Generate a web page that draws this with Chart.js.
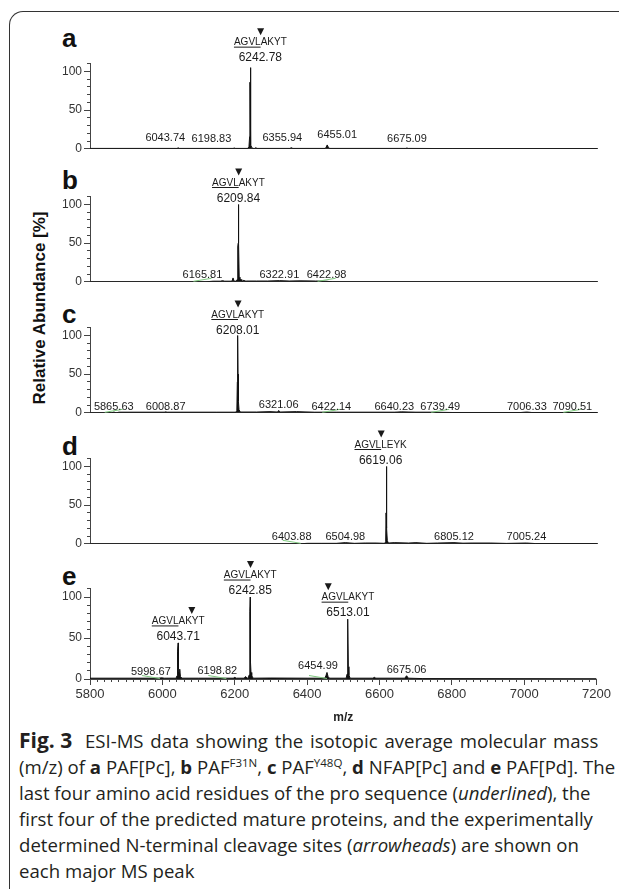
<!DOCTYPE html>
<html>
<head>
<meta charset="utf-8">
<script src="https://cdn.jsdelivr.net/npm/chart.js@4.4.1/dist/chart.umd.min.js"></script>
<style>
  body { margin:0; width:623px; height:889px; background:#fff; position:relative; overflow:hidden;
         font-family:"Liberation Sans", Arial, sans-serif; }
  .frame { position:absolute; left:9px; top:11px; width:609px; height:900px;
           border-left:1.5px solid #333; border-top:1.5px solid #333; border-top-left-radius:14px; }
  canvas { position:absolute; left:48px; }
  .letter { position:absolute; left:62px; font-weight:bold; font-size:26px; line-height:26px; color:#111; }
  .ytitle { position:absolute; left:40px; top:308px; transform:translate(-50%,-50%) rotate(-90deg);
            font-weight:bold; font-size:17px; white-space:nowrap; color:#111; }
  .caption { position:absolute; left:19px; top:727px; font-family:"Open Sans", sans-serif; font-size:18.6px;
             line-height:26px; color:#231f20; white-space:nowrap; }
  .caption .fig { font-size:21px; font-weight:bold; margin-right:3px; }
  .caption .wide { word-spacing:2px; }
  .caption sup { font-size:11.5px; line-height:0; vertical-align:7px; }
</style>
</head>
<body>
<div class="frame"></div>
<div class="ytitle">Relative Abundance [%]</div>
<div class="caption"><span class="fig">Fig. 3</span>&nbsp; <span class="wide">ESI-MS data showing the isotopic average molecular mass</span><br>(m/z) of <b>a</b> PAF[Pc], <b>b</b> PAF<sup>F31N</sup>, <b>c</b> PAF<sup>Y48Q</sup>, <b>d</b> NFAP[Pc] and <b>e</b> PAF[Pd]. The<br>last four amino acid residues of the pro sequence (<i>underlined</i>), the<br>first four of the predicted mature proteins, and the experimentally<br>determined N-terminal cleavage sites (<i>arrowheads</i>) are shown on<br>each major MS peak</div>
<script>
Chart.defaults.font.family = '"Liberation Sans", Arial, sans-serif';

// shared axes
const xMin = 5800, xMax = 7200;
const xStep = 200, xMinorStep = 20;
const yMax = 111, yTop = 100, yStep = 50, yMinorStep = 10;

// a  PAF[Pc]
const aMz  = [5800, 5880, 6040, 6043.7, 6047, 6195, 6198.8, 6202, 6236, 6239, 6240.8, 6241.5, 6242.3, 6242.78, 6243.4, 6244.5, 6247, 6250, 6255, 6258, 6261, 6352, 6356, 6360, 6449, 6452, 6455, 6458, 6462, 6671, 6675, 6679, 6800, 7200];
const aInt = [0.5, 0.5, 0.5, 1.2, 0.5, 0.5, 1, 0.5, 0.5, 3, 16, 86, 84, 105, 18, 5, 1.5, 0.5, 0.5, 1.5, 0.5, 0.5, 1.5, 0.5, 0.5, 2, 5, 2, 0.5, 0.5, 1, 0.5, 0.3, 0.3];
const aLabelMz  = [6043.74, 6198.83, 6242.78, 6355.94, 6455.01, 6675.09];
const aLabelInt = [1.2, 1, 105, 1.5, 5, 1];
const aSeqMz = [6242.78], aSeqText = ['AGVLAKYT'], aSeqCut = [4];

// b  PAF F31N
const bMz  = [5800, 6120, 6140, 6160, 6166, 6172, 6192, 6195, 6198, 6204, 6206.5, 6208, 6209, 6209.84, 6210.7, 6212, 6214, 6217, 6219, 6222, 6225, 6228, 6232, 6260, 6290, 6323, 6350, 6380, 6423, 6450, 6470, 7200];
const bInt = [0, 0, 0.8, 0.8, 1.5, 0.8, 0.8, 5, 0.8, 0.8, 3, 45, 50, 100, 50, 6, 2, 3, 1, 1, 2, 1, 1, 1, 1, 1.5, 1, 1.2, 1, 0.8, 0, 0];
const bLabelMz  = [6165.81, 6209.84, 6322.91, 6422.98];
const bLabelInt = [1.5, 100, 1.5, 1];
const bSeqMz = [6209.84], bSeqText = ['AGVLAKYT'], bSeqCut = [4];

// c  PAF Y48Q
const cMz  = [5800, 5860, 5866, 5872, 5880, 6005, 6009, 6013, 6150, 6203, 6205.5, 6206.8, 6207.4, 6208.01, 6208.8, 6209.8, 6211.5, 6215, 6260, 6297, 6318, 6321, 6324, 6370, 6420, 6480, 6640, 6660, 6700, 6740, 6800, 6990, 7006, 7020, 7090, 7200];
const cInt = [0, 0, 1, 0, 0.8, 0.8, 1.2, 0.8, 0.8, 0.8, 3, 40, 42, 100, 50, 15, 4, 1, 1, 1.5, 1, 3, 1, 1.5, 0.8, 0.8, 0.8, 1.2, 0.8, 0.8, 0.4, 0.4, 1, 0.4, 0.4, 0.4];
const cLabelMz  = [5865.63, 6008.87, 6208.01, 6321.06, 6422.14, 6640.23, 6739.49, 7006.33, 7090.51];
const cLabelInt = [1, 1.2, 100, 3, 0.8, 1.2, 0.8, 1, 0.4];
const cSeqMz = [6208.01], cSeqText = ['AGVLAKYT'], cSeqCut = [4];

// d  NFAP[Pc]
const dMz  = [5800, 6380, 6400, 6440, 6480, 6505, 6530, 6560, 6590, 6614, 6616.5, 6617.5, 6618.2, 6619.06, 6619.8, 6621, 6624, 6640, 6680, 6700, 6730, 6760, 6805, 6830, 6855, 6905, 6950, 7005, 7030, 7200];
const dInt = [0, 0, 0.6, 0.6, 0.6, 1.5, 0.6, 1, 1, 0.6, 3, 40, 58, 100, 20, 4, 1, 1.5, 1, 1.5, 0.6, 1, 1.5, 0.8, 1, 1, 0.5, 1, 0.3, 0.3];
const dLabelMz  = [6403.88, 6504.98, 6619.06, 6805.12, 7005.24];
const dLabelInt = [0.6, 1.5, 100, 1.5, 1];
const dSeqMz = [6619.06], dSeqText = ['AGVLLEYK'], dSeqCut = [4];

// e  PAF[Pd]
const eMz  = [5800, 5990, 5998, 6005, 6038, 6040.5, 6041.5, 6042.5, 6043.71, 6044.5, 6046, 6048, 6050, 6054, 6100, 6196, 6200, 6204, 6226, 6230, 6234, 6237, 6240, 6241.3, 6242.2, 6242.85, 6243.6, 6245, 6247, 6251, 6300, 6400, 6449, 6452, 6455, 6458, 6462, 6508, 6510.5, 6511.5, 6512.3, 6513.01, 6514, 6515.5, 6519, 6582, 6586, 6590, 6670, 6675, 6680, 6720, 7200];
const eInt = [1, 1, 1.5, 1, 1, 4, 33, 34, 44, 12, 8, 12, 3, 1, 1, 1, 2, 1, 1, 3, 1, 1, 5, 80, 82, 100, 20, 8, 4, 1, 1.2, 1, 1, 4, 8, 3, 1, 1, 6, 40, 42, 73, 15, 5, 1, 1, 2, 1, 1, 4, 1, 0.5, 0.3];
const eLabelMz  = [5998.67, 6043.71, 6198.82, 6242.85, 6454.99, 6513.01, 6675.06];
const eLabelInt = [1.5, 44, 2, 100, 8, 73, 4];
const eSeqMz = [6043.71, 6242.85, 6513.01], eSeqText = ['AGVLAKYT', 'AGVLAKYT', 'AGVLAKYT'], eSeqCut = [6, 4, 1];

// layout of each panel: pixel of the zero line, letter baseline, label gap, label nudges, green marks
const panels = [
  { letter:'a', mz:aMz, ab:aInt, lMz:aLabelMz, lAb:aLabelInt, sMz:aSeqMz, sText:aSeqText, sCut:aSeqCut,
    zeroY:154, letterY:47, gap:6.5, shift:{6043.74:-13, 6198.83:-23, 6242.78:10, 6355.94:-9, 6455.01:10}, green:[], greenDir:1 },
  { letter:'b', mz:bMz, ab:bInt, lMz:bLabelMz, lAb:bLabelInt, sMz:bSeqMz, sText:bSeqText, sCut:bSeqCut,
    zeroY:287, letterY:189, gap:3, shift:{6165.81:-20, 6422.98:11}, green:[6165.81, 6422.98], greenDir:1 },
  { letter:'c', mz:cMz, ab:cInt, lMz:cLabelMz, lAb:cLabelInt, sMz:cSeqMz, sText:cSeqText, sCut:cSeqCut,
    zeroY:418, letterY:323, gap:2, shift:{6422.14:16, 6739.49:10, 7090.51:15}, green:[5865.63, 6422.14, 6739.49, 7090.51], greenDir:1 },
  { letter:'d', mz:dMz, ab:dInt, lMz:dLabelMz, lAb:dLabelInt, sMz:dSeqMz, sText:dSeqText, sCut:dSeqCut,
    zeroY:549, letterY:455, gap:3, shift:{6403.88:-17, 6619.06:-6}, green:[6403.88], greenDir:-1 },
  { letter:'e', mz:eMz, ab:eInt, lMz:eLabelMz, lAb:eLabelInt, sMz:eSeqMz, sText:eSeqText, sCut:eSeqCut,
    zeroY:679, letterY:585, gap:3, shift:{5998.67:-11, 6198.82:-17, 6454.99:-9}, green:[5998.67, 6198.82, 6454.99], greenDir:-1 }
];

function peakLabels(p) {
  return {
    id: 'peakLabels',
    afterDatasetsDraw(chart) {
      const ctx = chart.ctx, xs = chart.scales.x, ys = chart.scales.y;
      const y0 = ys.getPixelForValue(0);
      ctx.save();
      ctx.strokeStyle = '#7fc97f';
      ctx.lineWidth = 1;
      p.green.forEach(m => {
        const gx = xs.getPixelForValue(m) + (p.shift[m] || 0);
        ctx.beginPath();
        ctx.moveTo(gx - 9, y0 - 2 + p.greenDir * 1.5);
        ctx.lineTo(gx + 9, y0 - 2 - p.greenDir * 1.5);
        ctx.stroke();
      });
      ctx.fillStyle = '#1a1a1a';
      ctx.textBaseline = 'alphabetic';
      p.lMz.forEach((m, i) => {
        const k = p.sMz.indexOf(m);
        const cx = xs.getPixelForValue(m) + (p.shift[m] || 0);
        const by = ys.getPixelForValue(p.lAb[i]) - p.gap;
        ctx.textAlign = 'center';
        ctx.font = (k >= 0 ? '12px' : '11px') + ' "Liberation Sans", Arial';
        ctx.fillText(m.toFixed(2), cx, by);
        if (k < 0) return;
        const seq = p.sText[k];
        ctx.font = '10px "Liberation Sans", Arial';
        const w = ctx.measureText(seq).width;
        const left = cx - w / 2, sy = by - 16;
        ctx.textAlign = 'left';
        ctx.fillText(seq, left, sy);
        ctx.fillRect(left, sy + 1.5, ctx.measureText(seq.slice(0, 4)).width, 1);
        const ax = left + ctx.measureText(seq.slice(0, p.sCut[k])).width;
        ctx.beginPath();
        ctx.moveTo(ax - 3.5, sy - 17);
        ctx.lineTo(ax + 3.5, sy - 17);
        ctx.lineTo(ax, sy - 10);
        ctx.closePath();
        ctx.fill();
      });
      ctx.restore();
    }
  };
}

const hidden = 'rgba(0,0,0,0)';

panels.forEach((p, i) => {
  const last = i === panels.length - 1;
  const lt = document.createElement('div');
  lt.className = 'letter';
  lt.textContent = p.letter;
  lt.style.top = (p.letterY - 22) + 'px';
  document.body.appendChild(lt);

  const cv = document.createElement('canvas');
  cv.width = 565;
  cv.height = last ? 185 : 139;
  cv.style.top = (p.zeroY - 135) + 'px';
  document.body.appendChild(cv);

  const scales = {
    x: {
      type: 'linear', min: xMin, max: xMax, bounds: 'data', weight: 1,
      ticks: last ? { stepSize: xStep, autoSkip: false, maxRotation: 0, padding: 2, color: '#333',
                      font: { size: 13 }, callback: v => String(v) } : { display: false },
      grid: last ? { drawOnChartArea: false, tickLength: 6, color: '#444' } : { display: false },
      border: { color: '#444', width: 1 },
      title: { display: last, text: 'm/z', color: '#222', font: { size: 12, weight: 'bold' }, padding: { top: 0, bottom: 4 } },
      afterFit: s => { s.height = last ? 50 : 0; }
    },
    y: {
      type: 'linear', min: 0, max: yMax, bounds: 'data', weight: 1,
      ticks: { stepSize: yStep, padding: 2, color: '#333', font: { size: 12 },
               callback: v => (v <= yTop ? String(v) : '') },
      grid: { drawOnChartArea: false, tickLength: 6,
              color: c => (c.tick && c.tick.value > yTop ? hidden : '#444') },
      border: { color: '#444', width: 1 },
      afterFit: s => { s.width = 42; }
    },
    y2: {
      type: 'linear', position: 'left', min: 0, max: yMax, bounds: 'data', weight: 0,
      ticks: { display: false, stepSize: yMinorStep },
      grid: { drawOnChartArea: false, tickLength: 3,
              color: c => (c.tick && c.tick.value % yMinorStep !== 0 ? hidden : '#444') },
      border: { display: false },
      afterFit: s => { s.width = 0; }
    }
  };
  if (last) {
    scales.x2 = {
      type: 'linear', position: 'bottom', min: xMin, max: xMax, bounds: 'data', weight: 0,
      ticks: { display: false, stepSize: xMinorStep, autoSkip: false },
      grid: { drawOnChartArea: false, tickLength: 3, color: '#444' },
      border: { display: false },
      afterFit: s => { s.height = 0; }
    };
  }

  new Chart(cv.getContext('2d'), {
    type: 'line',
    data: {
      datasets: [{
        data: p.mz.map((m, k) => ({ x: m, y: p.ab[k] })),
        borderColor: '#111',
        backgroundColor: '#111',
        borderWidth: 1,
        fill: 'origin',
        pointRadius: 0,
        tension: 0
      }]
    },
    options: {
      responsive: false,
      animation: false,
      devicePixelRatio: 1,
      layout: { padding: { top: 44, bottom: last ? 0 : 4, left: 0, right: 16 } },
      plugins: { legend: { display: false }, tooltip: { enabled: false } },
      scales: scales
    },
    plugins: [peakLabels(p)]
  });
});
</script>
</body>
</html>
